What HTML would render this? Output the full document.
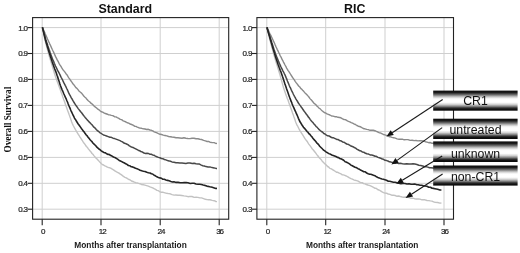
<!DOCTYPE html>
<html lang="en"><head><meta charset="utf-8"><title>Overall Survival</title>
<style>
html,body{margin:0;padding:0;background:#fff;}
body{width:520px;height:253px;overflow:hidden;}
svg{display:block;filter:grayscale(1);}
.sans{font-family:"Liberation Sans",Arial,sans-serif;}
.serif{font-family:"Liberation Serif","Times New Roman",serif;}
.tk{font-size:8px;letter-spacing:-0.65px;fill:#222;stroke:#222;stroke-width:0.2px;}
.tx{font-size:8px;letter-spacing:-1.0px;fill:#222;stroke:#222;stroke-width:0.2px;}
.ttl{font-size:12.4px;font-weight:bold;fill:#111;}
.xt{font-size:8.33px;font-weight:bold;fill:#1a1a1a;}
.lb{font-size:12.3px;fill:#111;}
</style></head><body>
<svg width="520" height="253" viewBox="0 0 520 253">
<defs>
<linearGradient id="cyl" x1="0" y1="0" x2="0" y2="1">
<stop offset="0" stop-color="#0a0a0a"/><stop offset="0.10" stop-color="#1c1c1c"/><stop offset="0.2" stop-color="#686868"/><stop offset="0.3" stop-color="#bdbdbd"/><stop offset="0.38" stop-color="#f0f0f0"/><stop offset="0.45" stop-color="#ffffff"/><stop offset="0.58" stop-color="#ffffff"/><stop offset="0.68" stop-color="#d8d8d8"/><stop offset="0.78" stop-color="#888888"/><stop offset="0.86" stop-color="#353535"/><stop offset="0.92" stop-color="#121212"/><stop offset="1" stop-color="#0a0a0a"/>
</linearGradient>
</defs>
<rect width="520" height="253" fill="#fff"/>

<line x1="32.6" y1="27.6" x2="228.7" y2="27.6" stroke="#cfcfcf" stroke-width="1"/>
<line x1="32.6" y1="53.5" x2="228.7" y2="53.5" stroke="#cfcfcf" stroke-width="1"/>
<line x1="32.6" y1="79.4" x2="228.7" y2="79.4" stroke="#cfcfcf" stroke-width="1"/>
<line x1="32.6" y1="105.4" x2="228.7" y2="105.4" stroke="#cfcfcf" stroke-width="1"/>
<line x1="32.6" y1="131.4" x2="228.7" y2="131.4" stroke="#cfcfcf" stroke-width="1"/>
<line x1="32.6" y1="157.4" x2="228.7" y2="157.4" stroke="#cfcfcf" stroke-width="1"/>
<line x1="32.6" y1="183.3" x2="228.7" y2="183.3" stroke="#cfcfcf" stroke-width="1"/>
<line x1="32.6" y1="209.2" x2="228.7" y2="209.2" stroke="#cfcfcf" stroke-width="1"/>
<line x1="42.2" y1="17.6" x2="42.2" y2="219.2" stroke="#cfcfcf" stroke-width="1"/>
<line x1="101.0" y1="17.6" x2="101.0" y2="219.2" stroke="#cfcfcf" stroke-width="1"/>
<line x1="160.2" y1="17.6" x2="160.2" y2="219.2" stroke="#cfcfcf" stroke-width="1"/>
<line x1="219.2" y1="17.6" x2="219.2" y2="219.2" stroke="#cfcfcf" stroke-width="1"/>
<path d="M42.4 27.3 L42.6 28.3 L42.8 29.7 L43.3 31.8 L43.6 33.4 L44.1 35.9 L44.5 37.9 L44.9 39.7 L45.4 41.5 L45.7 42.8 L46.1 44.6 L46.5 45.9 L46.9 47.6 L47.5 49.5 L48.0 51.5 L48.4 52.8 L48.9 54.8 L49.4 56.5 L49.9 58.2 L50.3 59.5 L50.7 60.9 L51.3 62.9 L51.6 63.9 L52.3 66.1 L52.6 67.4 L53.1 68.9 L53.6 70.4 L54.1 72.1 L54.6 73.9 L54.9 74.8 L55.6 76.9 L56.2 78.6 L56.7 80.0 L57.3 81.7 L57.7 82.8 L58.3 84.2 L58.8 85.8 L59.5 87.6 L60.0 88.9 L60.5 90.4 L61.1 92.2 L61.7 93.6 L62.2 95.1 L62.8 97.0 L63.4 98.5 L63.8 99.7 L64.5 101.5 L65.0 103.0 L65.6 104.9 L66.2 106.4 L66.7 107.7 L67.4 109.9 L67.8 110.9 L68.5 112.7 L69.1 114.5 L69.5 115.5 L70.0 117.0 L70.6 118.6 L71.2 120.6 L71.7 122.0 L72.2 123.3 L73.1 125.3 L73.5 126.0 L74.3 127.5 L74.9 128.7 L75.7 130.0 L76.5 131.3 L77.4 132.9 L78.3 134.4 L79.1 135.5 L80.0 137.1 L80.6 137.8 L81.5 139.4 L82.3 140.5 L83.1 141.9 L83.9 143.0 L84.6 143.8 L85.5 145.1 L86.4 146.5 L87.2 147.2 L88.2 148.7 L89.0 149.6 L89.9 150.7 L90.9 151.8 L92.0 153.5 L92.9 154.3 L93.9 155.6 L95.0 156.9 L96.2 158.4 L97.1 159.0 L98.2 160.3 L99.2 161.4 L100.3 162.6 L101.2 163.5 L102.1 164.3 L103.5 165.0 L104.9 165.9 L106.1 166.3 L107.4 167.1 L108.7 167.6 L109.9 167.8 L111.1 168.4 L112.3 169.2 L113.5 169.9 L114.9 170.9 L116.2 171.7 L117.4 172.3 L118.6 172.9 L120.0 173.9 L121.2 174.7 L122.5 175.6 L123.8 176.7 L125.0 177.3 L126.3 177.9 L127.5 178.7 L128.8 179.5 L129.9 179.7 L131.5 181.0 L132.9 181.5 L134.4 182.2 L135.8 182.7 L137.1 182.9 L138.6 183.4 L139.9 183.7 L141.7 184.6 L143.2 184.7 L144.9 185.2 L146.6 185.7 L148.3 186.2 L150.0 186.9 L151.3 187.3 L152.7 187.9 L154.1 188.7 L155.5 189.4 L157.0 190.3 L158.4 190.7 L160.1 191.9 L161.6 192.2 L163.2 192.3 L165.0 192.8 L166.7 193.3 L168.5 193.6 L170.2 193.8 L172.1 194.6 L174.1 195.1 L175.9 195.0 L177.9 195.3 L179.8 195.2 L181.8 195.5 L184.0 195.9 L185.9 196.1 L188.0 196.7 L189.9 196.4 L191.9 196.5 L194.2 197.4 L196.1 197.3 L197.9 197.4 L199.9 197.9 L201.6 197.9 L203.6 198.6 L205.4 199.3 L207.1 199.6 L208.6 199.8 L209.9 199.8 L212.2 200.4 L214.2 200.7 L215.9 201.5 L217.0 201.6" fill="none" stroke="#c2c2c2" stroke-width="1.4" stroke-linejoin="round"/>
<path d="M42.4 27.3 L42.8 28.2 L43.3 29.5 L43.8 30.5 L44.5 32.0 L45.3 34.0 L46.1 35.8 L46.8 37.3 L47.4 38.8 L48.1 40.2 L48.7 41.6 L49.2 42.6 L49.8 44.1 L50.4 45.3 L50.9 46.4 L51.5 47.7 L52.2 49.3 L52.9 50.8 L53.7 52.4 L54.4 54.0 L54.9 55.1 L55.7 56.9 L56.5 58.4 L57.2 59.9 L57.8 60.9 L58.5 62.2 L59.2 63.6 L59.9 64.8 L60.8 66.2 L61.8 67.9 L62.7 69.3 L63.6 70.5 L64.4 71.4 L65.3 72.7 L66.2 74.0 L66.9 74.7 L67.9 76.4 L68.8 77.8 L69.6 78.9 L70.4 80.2 L71.2 81.2 L72.0 82.3 L73.1 84.0 L74.0 84.9 L75.0 86.3 L75.9 87.6 L76.8 88.3 L77.8 89.4 L78.9 90.9 L79.9 91.8 L80.8 92.5 L81.9 93.6 L82.9 94.8 L84.0 96.3 L85.0 97.2 L85.8 97.8 L86.9 99.3 L88.0 100.5 L88.9 101.3 L89.9 102.0 L90.9 103.2 L91.9 103.8 L92.9 104.7 L94.3 106.3 L95.4 107.1 L96.6 108.0 L97.9 109.2 L99.0 109.8 L100.3 111.0 L101.5 111.8 L102.7 112.1 L103.9 112.8 L105.4 113.5 L106.8 114.0 L108.4 114.7 L109.8 114.9 L111.3 115.4 L112.8 115.6 L114.5 116.7 L116.0 116.9 L117.3 117.6 L118.8 118.3 L120.3 119.3 L121.6 119.7 L123.2 120.8 L124.6 121.3 L126.0 122.0 L127.4 122.8 L128.7 123.1 L130.0 124.0 L131.6 124.5 L133.0 125.1 L134.6 126.2 L135.9 126.4 L137.3 127.1 L138.7 127.7 L140.0 128.0 L141.6 128.3 L143.3 128.8 L145.0 129.0 L146.7 129.5 L148.3 129.3 L150.0 130.0 L151.4 130.3 L152.8 130.9 L154.2 131.8 L155.6 132.3 L157.0 132.9 L158.5 133.6 L160.1 134.3 L161.6 134.5 L163.3 135.1 L165.0 135.5 L166.8 135.9 L168.6 136.5 L170.3 136.7 L172.0 137.0 L174.0 137.3 L176.0 137.8 L177.9 137.8 L179.9 138.0 L182.0 138.2 L183.9 137.8 L185.9 138.2 L188.0 138.5 L190.0 138.6 L192.0 138.2 L194.0 138.3 L196.1 138.7 L197.9 138.7 L199.8 139.2 L201.6 139.5 L203.6 140.3 L205.4 140.9 L207.1 141.5 L208.5 141.4 L210.0 142.2 L212.3 142.6 L214.2 142.6 L215.9 143.5 L217.0 143.4" fill="none" stroke="#8a8a8a" stroke-width="1.4" stroke-linejoin="round"/>
<path d="M42.4 27.3 L42.8 28.6 L43.0 29.3 L43.5 31.3 L43.9 32.6 L44.4 34.5 L45.0 36.7 L45.5 38.4 L45.9 39.8 L46.4 41.4 L46.9 42.9 L47.4 44.3 L47.8 45.8 L48.4 47.4 L49.0 49.3 L49.4 50.3 L50.0 52.2 L50.5 53.6 L50.9 54.7 L51.6 56.6 L52.3 58.4 L52.9 59.9 L53.5 61.1 L54.3 63.3 L54.9 64.6 L55.5 66.0 L55.9 66.7 L56.7 68.4 L57.2 69.5 L58.0 71.2 L58.5 72.0 L59.2 73.2 L60.0 74.9 L60.7 76.4 L61.3 77.6 L61.8 78.5 L62.5 79.8 L63.3 81.7 L63.9 82.9 L64.7 84.4 L65.2 85.4 L65.9 86.7 L66.7 88.5 L67.3 89.6 L67.8 90.7 L68.6 92.6 L69.2 93.8 L69.9 95.2 L70.4 96.0 L71.3 97.9 L71.9 98.7 L72.8 100.4 L73.4 101.4 L74.1 102.5 L74.9 103.8 L75.8 105.2 L76.4 106.0 L77.2 107.1 L78.2 108.6 L79.0 109.6 L79.9 110.7 L80.7 111.8 L81.6 112.8 L82.5 114.0 L83.4 115.2 L84.3 116.4 L85.4 117.8 L86.2 118.6 L87.2 119.9 L88.1 120.7 L89.1 121.9 L90.0 122.7 L90.9 123.8 L92.0 124.8 L93.2 126.4 L94.2 127.4 L95.2 128.2 L96.3 129.5 L97.5 130.8 L98.4 131.2 L99.7 132.6 L100.8 133.2 L102.0 134.0 L103.5 135.0 L104.9 135.4 L106.5 136.0 L108.2 136.6 L109.9 137.3 L111.3 137.3 L113.0 138.2 L114.6 138.6 L116.0 139.1 L117.4 139.6 L118.7 140.1 L120.0 140.6 L121.3 141.3 L122.5 141.9 L124.0 143.1 L125.2 143.4 L126.5 144.0 L127.9 144.7 L129.4 145.9 L130.8 146.7 L132.3 147.3 L133.7 147.8 L135.2 148.6 L136.7 149.4 L138.2 150.2 L139.5 150.7 L140.8 151.5 L142.0 151.8 L144.0 153.0 L145.6 153.4 L147.0 153.3 L148.3 153.4 L150.1 154.3 L151.3 154.3 L152.6 154.9 L153.9 155.2 L155.4 156.1 L156.9 156.8 L158.4 157.4 L159.9 157.8 L161.4 158.5 L162.8 158.7 L164.4 159.5 L165.9 159.9 L167.5 160.6 L169.0 160.9 L170.5 161.3 L172.0 161.9 L174.0 162.2 L176.0 162.7 L177.8 162.8 L179.8 163.0 L182.0 163.1 L183.9 163.2 L185.9 163.4 L187.9 163.1 L190.0 163.1 L192.3 163.6 L194.1 163.2 L196.0 163.8 L197.9 164.0 L199.5 164.1 L201.3 165.1 L202.8 165.7 L204.3 166.0 L206.0 166.6 L208.0 167.0 L209.9 166.9 L212.1 167.6 L214.1 167.9 L215.9 168.4 L217.0 168.4" fill="none" stroke="#484848" stroke-width="1.5" stroke-linejoin="round"/>
<path d="M42.4 27.3 L42.7 28.6 L43.1 30.2 L43.5 31.8 L44.0 34.0 L44.5 36.0 L45.0 38.1 L45.4 39.8 L45.8 41.3 L46.3 43.0 L46.9 44.8 L47.3 46.4 L48.0 48.6 L48.5 50.2 L49.0 51.9 L49.5 53.5 L50.0 55.1 L50.5 56.7 L51.0 58.0 L51.6 60.1 L52.1 61.6 L52.6 62.9 L53.1 64.4 L53.6 65.8 L53.9 66.7 L54.7 69.0 L55.2 70.1 L55.7 71.4 L56.3 73.0 L57.0 75.2 L57.4 76.1 L57.9 77.8 L58.4 79.5 L58.8 80.6 L59.3 82.1 L59.8 83.8 L60.4 85.5 L61.1 87.2 L61.5 88.4 L62.1 89.8 L62.6 90.8 L63.2 92.2 L63.8 93.7 L64.6 95.5 L65.1 96.6 L65.8 98.2 L66.3 99.2 L66.9 100.7 L67.6 102.3 L68.2 104.0 L68.8 105.5 L69.4 106.9 L70.0 108.1 L70.6 109.7 L71.2 111.1 L71.8 112.4 L72.3 113.5 L73.1 115.3 L73.7 116.2 L74.5 118.1 L75.2 119.3 L75.7 119.8 L76.5 121.3 L77.4 122.7 L78.2 124.0 L79.0 125.0 L79.7 126.0 L80.5 127.1 L81.5 128.7 L82.2 129.4 L83.1 130.9 L84.0 131.8 L85.0 133.3 L86.1 134.8 L86.9 135.5 L88.1 137.2 L88.9 138.1 L89.9 139.5 L90.8 140.5 L91.7 141.3 L92.9 143.0 L93.8 143.9 L94.7 144.7 L95.8 145.8 L96.9 147.2 L98.0 148.2 L98.9 149.0 L99.9 149.7 L101.3 150.9 L102.6 151.7 L104.1 152.7 L105.2 152.7 L106.7 153.8 L108.1 154.4 L109.3 154.5 L110.8 155.6 L112.0 156.1 L113.5 157.0 L114.7 157.4 L116.2 158.3 L117.6 159.2 L119.2 160.5 L120.5 161.0 L121.7 161.6 L122.9 162.3 L124.0 162.8 L125.7 163.7 L127.0 164.4 L128.4 165.5 L130.0 165.8 L131.3 166.8 L132.5 166.9 L134.0 167.5 L135.5 168.3 L137.0 168.7 L138.5 169.4 L140.1 170.3 L141.7 170.8 L143.4 171.2 L145.0 171.5 L146.8 172.2 L148.4 172.7 L150.0 173.0 L151.4 173.8 L152.6 174.0 L154.1 175.2 L155.4 175.8 L156.9 176.8 L158.4 177.4 L160.0 177.9 L161.3 178.2 L162.9 179.3 L164.3 179.3 L165.9 180.0 L167.5 180.4 L169.1 180.8 L170.9 181.5 L172.5 182.0 L173.9 181.8 L176.1 182.4 L178.1 182.4 L180.2 182.7 L182.3 182.7 L184.2 182.6 L186.1 182.6 L187.9 182.8 L190.3 183.5 L192.2 183.3 L194.0 183.3 L196.0 184.0 L198.1 184.3 L199.6 184.3 L201.4 184.5 L203.2 185.0 L205.0 185.4 L206.8 186.1 L208.4 186.4 L209.9 186.8 L212.2 187.3 L214.3 187.9 L215.9 188.5 L217.0 188.4" fill="none" stroke="#242424" stroke-width="1.6" stroke-linejoin="round"/>
<rect x="32.6" y="17.6" width="196.1" height="201.6" fill="none" stroke="#222" stroke-width="1.1"/>
<line x1="27.6" y1="27.6" x2="32.6" y2="27.6" stroke="#222" stroke-width="1.1"/>
<text class="sans tk" x="27.4" y="30.5" text-anchor="end">1.0</text>
<line x1="27.6" y1="53.5" x2="32.6" y2="53.5" stroke="#222" stroke-width="1.1"/>
<text class="sans tk" x="27.4" y="56.4" text-anchor="end">0.9</text>
<line x1="27.6" y1="79.4" x2="32.6" y2="79.4" stroke="#222" stroke-width="1.1"/>
<text class="sans tk" x="27.4" y="82.3" text-anchor="end">0.8</text>
<line x1="27.6" y1="105.4" x2="32.6" y2="105.4" stroke="#222" stroke-width="1.1"/>
<text class="sans tk" x="27.4" y="108.3" text-anchor="end">0.7</text>
<line x1="27.6" y1="131.4" x2="32.6" y2="131.4" stroke="#222" stroke-width="1.1"/>
<text class="sans tk" x="27.4" y="134.3" text-anchor="end">0.6</text>
<line x1="27.6" y1="157.4" x2="32.6" y2="157.4" stroke="#222" stroke-width="1.1"/>
<text class="sans tk" x="27.4" y="160.3" text-anchor="end">0.5</text>
<line x1="27.6" y1="183.3" x2="32.6" y2="183.3" stroke="#222" stroke-width="1.1"/>
<text class="sans tk" x="27.4" y="186.2" text-anchor="end">0.4</text>
<line x1="27.6" y1="209.2" x2="32.6" y2="209.2" stroke="#222" stroke-width="1.1"/>
<text class="sans tk" x="27.4" y="212.1" text-anchor="end">0.3</text>
<line x1="42.2" y1="219.2" x2="42.2" y2="225.3" stroke="#222" stroke-width="1.1"/>
<text class="sans tx" x="42.8" y="233.9" text-anchor="middle">0</text>
<line x1="101.0" y1="219.2" x2="101.0" y2="225.3" stroke="#222" stroke-width="1.1"/>
<text class="sans tx" x="102.2" y="233.9" text-anchor="middle">12</text>
<line x1="160.2" y1="219.2" x2="160.2" y2="225.3" stroke="#222" stroke-width="1.1"/>
<text class="sans tx" x="161.0" y="233.9" text-anchor="middle">24</text>
<line x1="219.2" y1="219.2" x2="219.2" y2="225.3" stroke="#222" stroke-width="1.1"/>
<text class="sans tx" x="219.6" y="233.9" text-anchor="middle">36</text>
<line x1="256.9" y1="27.6" x2="453.5" y2="27.6" stroke="#cfcfcf" stroke-width="1"/>
<line x1="256.9" y1="53.5" x2="453.5" y2="53.5" stroke="#cfcfcf" stroke-width="1"/>
<line x1="256.9" y1="79.4" x2="453.5" y2="79.4" stroke="#cfcfcf" stroke-width="1"/>
<line x1="256.9" y1="105.4" x2="453.5" y2="105.4" stroke="#cfcfcf" stroke-width="1"/>
<line x1="256.9" y1="131.4" x2="453.5" y2="131.4" stroke="#cfcfcf" stroke-width="1"/>
<line x1="256.9" y1="157.4" x2="453.5" y2="157.4" stroke="#cfcfcf" stroke-width="1"/>
<line x1="256.9" y1="183.3" x2="453.5" y2="183.3" stroke="#cfcfcf" stroke-width="1"/>
<line x1="256.9" y1="209.2" x2="453.5" y2="209.2" stroke="#cfcfcf" stroke-width="1"/>
<line x1="266.8" y1="17.6" x2="266.8" y2="219.2" stroke="#cfcfcf" stroke-width="1"/>
<line x1="325.7" y1="17.6" x2="325.7" y2="219.2" stroke="#cfcfcf" stroke-width="1"/>
<line x1="385.0" y1="17.6" x2="385.0" y2="219.2" stroke="#cfcfcf" stroke-width="1"/>
<line x1="444.0" y1="17.6" x2="444.0" y2="219.2" stroke="#cfcfcf" stroke-width="1"/>
<path d="M266.9 27.3 L267.2 28.6 L267.5 29.9 L267.9 31.7 L268.5 33.7 L268.9 35.7 L269.4 37.8 L269.9 39.7 L270.3 41.4 L270.9 43.4 L271.1 44.4 L271.6 46.2 L272.1 48.0 L272.6 49.8 L272.9 51.1 L273.4 52.9 L273.9 54.8 L274.4 56.3 L274.8 57.8 L275.4 59.7 L275.8 61.2 L276.3 62.9 L276.6 63.9 L277.2 65.6 L277.8 67.7 L278.3 69.4 L278.7 70.7 L279.2 72.3 L279.5 73.3 L280.0 74.9 L280.6 77.1 L281.1 78.7 L281.5 80.4 L282.0 82.0 L282.2 82.9 L282.6 84.3 L283.0 85.8 L283.5 87.5 L284.0 89.1 L284.6 90.9 L285.1 92.3 L285.6 93.8 L286.2 95.4 L286.7 96.7 L287.3 98.4 L287.8 99.6 L288.5 101.6 L288.9 102.8 L289.7 104.9 L290.2 106.3 L290.7 107.8 L291.3 109.3 L291.9 111.0 L292.5 112.9 L293.1 114.4 L293.5 115.4 L293.9 116.7 L294.7 118.9 L295.2 120.5 L295.6 121.7 L296.1 123.0 L297.0 125.1 L297.5 125.8 L298.2 127.2 L298.9 128.6 L299.8 130.3 L300.5 131.4 L301.4 133.0 L302.2 134.1 L303.0 135.4 L303.9 136.8 L304.8 138.4 L305.5 139.4 L306.2 140.2 L307.0 141.2 L307.9 142.7 L308.8 144.1 L309.6 145.1 L310.4 146.2 L311.4 147.6 L312.3 149.0 L313.1 149.7 L313.9 150.7 L314.9 152.0 L315.8 153.2 L316.8 154.6 L317.6 155.5 L318.7 157.0 L319.7 158.2 L320.6 159.1 L321.5 160.0 L322.5 161.6 L323.3 162.1 L324.3 163.4 L324.9 163.8 L326.2 165.0 L327.6 166.5 L328.6 167.0 L329.8 168.3 L330.8 168.6 L331.8 169.1 L332.9 169.8 L334.2 170.7 L335.5 171.5 L336.7 172.3 L337.8 172.3 L339.3 173.2 L340.9 173.8 L342.3 174.9 L343.4 174.9 L344.8 175.4 L346.3 176.0 L347.9 176.9 L349.5 177.9 L351.0 178.6 L352.4 179.1 L353.8 179.8 L355.1 180.3 L356.6 180.6 L358.1 181.1 L359.7 182.2 L361.0 182.6 L362.2 182.6 L363.6 183.6 L365.0 183.9 L366.4 184.5 L367.8 185.0 L369.2 185.4 L370.6 185.9 L372.1 186.6 L373.5 187.3 L375.1 188.3 L376.3 188.4 L377.9 189.7 L379.1 190.0 L380.5 190.8 L382.1 191.9 L383.5 192.6 L385.0 193.0 L386.5 193.2 L388.2 194.0 L389.9 194.4 L391.7 195.2 L393.3 195.1 L395.1 195.5 L397.1 196.3 L398.6 196.0 L400.3 196.5 L402.2 197.0 L403.9 197.2 L405.6 197.0 L407.4 197.2 L409.1 197.5 L411.1 198.3 L412.7 198.1 L414.6 198.7 L416.5 199.0 L418.2 198.9 L420.0 199.1 L421.9 199.8 L423.5 199.8 L425.0 199.8 L427.0 200.5 L428.7 200.6 L430.4 200.9 L432.0 201.1 L433.6 201.9 L435.1 202.3 L437.7 202.5 L440.0 203.1 L441.4 203.0" fill="none" stroke="#c2c2c2" stroke-width="1.4" stroke-linejoin="round"/>
<path d="M266.9 27.3 L267.2 27.8 L267.8 29.1 L268.5 30.6 L269.3 32.5 L270.1 34.1 L270.8 35.3 L271.5 36.9 L272.3 38.5 L273.0 40.0 L273.8 41.7 L274.2 42.6 L274.9 44.3 L275.5 45.6 L276.1 47.0 L276.7 48.3 L277.3 49.6 L278.0 50.9 L278.6 52.2 L279.3 53.6 L280.0 55.3 L280.6 56.3 L281.4 57.9 L282.2 59.7 L282.9 60.8 L283.5 62.1 L284.2 63.4 L285.0 65.0 L285.8 66.3 L286.6 68.1 L287.4 69.3 L288.1 70.6 L288.7 71.3 L289.4 72.3 L290.1 73.5 L291.0 75.0 L291.9 76.4 L292.6 77.5 L293.4 78.6 L294.3 79.9 L295.2 81.3 L296.1 82.6 L297.1 83.9 L298.1 85.2 L298.9 86.2 L299.8 87.0 L300.9 88.6 L301.8 89.3 L302.9 90.6 L303.9 91.6 L305.0 92.9 L305.9 93.7 L306.9 94.8 L307.9 95.9 L308.9 97.0 L310.0 98.6 L310.9 99.6 L311.8 100.5 L312.8 101.7 L314.0 103.2 L314.9 103.9 L315.9 104.8 L317.1 106.2 L318.1 107.1 L319.2 108.3 L320.0 108.6 L321.2 109.9 L322.4 111.0 L323.5 111.9 L324.7 112.8 L325.7 113.0 L327.0 113.9 L328.3 114.4 L329.9 115.0 L331.6 116.0 L333.1 116.1 L334.8 116.7 L336.3 116.6 L338.0 117.3 L339.5 117.5 L340.9 117.8 L342.6 118.8 L344.1 119.5 L345.4 119.6 L347.0 120.7 L348.4 121.4 L349.8 121.8 L351.2 122.6 L352.6 123.1 L353.9 123.8 L355.4 124.5 L356.9 125.5 L358.3 126.2 L359.6 126.5 L360.9 127.0 L362.3 127.9 L363.7 128.7 L364.9 128.8 L366.7 129.4 L368.3 129.6 L370.1 130.3 L371.7 130.3 L373.3 130.3 L374.9 130.7 L376.4 131.4 L377.8 132.0 L379.1 132.7 L380.3 132.9 L381.8 133.6 L383.4 134.5 L385.0 134.9 L386.3 135.3 L387.6 135.8 L389.2 136.7 L390.5 136.8 L392.0 137.4 L393.6 137.7 L395.3 138.2 L397.1 138.9 L399.1 139.3 L400.6 139.1 L402.3 139.2 L404.2 139.8 L406.0 139.6 L408.0 139.6 L410.2 140.4 L412.1 140.2 L414.2 140.6 L416.0 140.5 L417.9 140.9 L419.5 140.8 L420.9 140.8 L423.2 141.0 L425.3 141.7 L427.0 142.1 L428.7 142.7 L430.0 142.5 L431.6 143.2 L433.0 143.3 L435.1 143.8 L437.2 143.9 L439.1 144.4 L440.8 144.8 L442.0 145.0" fill="none" stroke="#8a8a8a" stroke-width="1.4" stroke-linejoin="round"/>
<path d="M266.9 27.3 L267.3 28.6 L267.5 29.3 L268.1 31.0 L268.7 32.9 L269.3 34.8 L269.8 36.2 L270.3 38.0 L271.1 40.3 L271.6 41.8 L271.9 42.9 L272.3 44.1 L273.0 46.3 L273.4 47.5 L274.0 49.4 L274.5 50.7 L275.1 52.4 L275.4 53.4 L276.1 55.2 L276.6 56.5 L277.3 58.2 L278.0 60.1 L278.6 61.7 L279.1 62.7 L279.8 64.2 L280.4 65.6 L281.0 67.0 L281.7 68.4 L282.3 69.6 L282.9 70.8 L283.7 72.3 L284.4 73.8 L284.9 74.7 L285.6 76.4 L286.2 77.9 L286.7 78.9 L287.4 81.0 L287.9 82.1 L288.7 84.0 L289.3 85.5 L290.0 87.1 L290.6 88.2 L291.2 89.6 L291.9 91.1 L292.5 92.3 L293.2 93.8 L293.8 95.0 L294.5 96.3 L295.1 97.3 L296.0 99.1 L296.7 100.2 L297.4 101.2 L298.2 102.8 L299.0 103.9 L299.7 104.9 L300.5 105.9 L301.4 107.3 L302.2 108.3 L303.0 109.5 L304.0 111.0 L304.7 111.9 L305.7 113.3 L306.6 114.6 L307.4 115.5 L308.4 117.1 L309.2 117.9 L310.3 119.6 L311.2 120.8 L312.1 121.8 L313.0 122.6 L314.0 124.0 L315.0 125.0 L316.2 126.6 L317.0 127.1 L318.2 128.6 L319.2 129.7 L320.2 130.5 L321.4 131.5 L322.4 132.0 L323.8 133.5 L325.0 134.0 L326.4 135.1 L327.7 135.8 L329.0 135.9 L330.7 137.0 L332.3 137.7 L333.6 137.8 L335.2 138.6 L336.8 139.4 L338.2 139.6 L339.8 140.7 L341.0 140.8 L342.6 141.9 L343.9 142.2 L345.3 143.1 L346.7 144.0 L347.8 144.2 L349.1 144.9 L350.4 145.7 L351.7 146.2 L352.9 146.7 L354.3 147.5 L355.6 148.2 L357.2 149.4 L358.5 150.0 L359.9 150.8 L361.1 151.0 L362.5 152.1 L363.7 152.2 L365.0 153.0 L366.8 153.8 L368.5 154.1 L370.2 154.9 L371.8 155.1 L373.4 155.5 L375.1 156.3 L376.3 156.3 L378.0 157.4 L379.3 157.8 L380.7 158.2 L382.2 159.1 L383.5 159.3 L385.1 160.3 L386.6 160.6 L387.9 161.0 L389.4 161.8 L390.9 162.1 L392.7 162.4 L395.1 163.2 L396.5 162.9 L398.5 163.6 L400.3 163.3 L402.5 163.7 L404.7 164.0 L406.8 163.8 L409.0 164.0 L411.1 163.9 L413.0 163.8 L414.9 164.1 L416.9 164.5 L418.9 165.2 L420.8 165.4 L422.7 165.9 L424.5 166.7 L426.1 166.6 L427.8 167.1 L429.5 167.8 L430.9 167.7 L433.1 168.1 L435.4 168.8 L437.4 168.9 L439.3 169.4 L440.8 169.6 L442.0 170.0" fill="none" stroke="#484848" stroke-width="1.5" stroke-linejoin="round"/>
<path d="M266.9 27.3 L267.2 28.3 L267.5 29.6 L267.9 30.8 L268.4 32.8 L268.9 34.5 L269.4 36.1 L270.1 38.5 L270.4 39.8 L270.9 41.3 L271.4 43.0 L272.0 45.0 L272.5 46.9 L273.0 48.6 L273.5 50.1 L274.0 51.7 L274.4 53.1 L275.0 55.1 L275.5 56.7 L276.0 58.2 L276.6 60.0 L277.1 61.4 L277.7 63.2 L278.1 64.5 L278.5 65.5 L279.1 67.3 L279.6 68.5 L280.2 70.3 L280.8 71.6 L281.3 73.0 L281.9 74.7 L282.5 76.5 L282.8 77.3 L283.4 79.2 L284.0 80.9 L284.3 81.9 L284.8 83.6 L285.5 85.5 L286.0 87.0 L286.5 88.6 L287.1 90.2 L287.5 91.3 L288.1 93.0 L288.6 94.5 L289.1 95.9 L289.9 98.1 L290.5 99.6 L291.0 101.2 L291.5 102.1 L292.2 104.1 L292.8 105.5 L293.4 106.8 L294.1 108.4 L294.6 109.7 L295.2 110.9 L295.8 112.2 L296.4 113.6 L296.9 114.7 L297.7 116.5 L298.4 118.3 L299.0 119.6 L299.6 121.0 L300.3 122.3 L301.0 123.3 L302.0 125.0 L302.7 126.0 L303.5 127.2 L304.3 128.1 L305.1 129.0 L306.1 130.3 L307.1 131.6 L307.9 132.2 L309.0 133.8 L309.8 134.3 L310.9 135.7 L311.9 136.8 L312.9 138.2 L313.9 139.4 L314.8 140.4 L315.6 141.2 L316.7 142.8 L317.6 143.6 L318.6 144.6 L319.7 146.2 L320.7 147.2 L321.8 148.3 L322.8 149.3 L324.0 150.4 L325.0 151.0 L326.3 152.1 L327.6 152.8 L329.0 153.7 L330.3 154.1 L331.8 155.0 L333.2 155.5 L334.6 156.0 L335.9 156.5 L337.4 157.4 L338.6 157.6 L340.0 158.7 L340.9 158.8 L342.4 159.5 L343.7 160.3 L345.1 161.7 L346.1 162.0 L347.1 162.5 L348.3 163.1 L349.5 163.9 L351.0 165.1 L352.3 165.8 L353.6 166.5 L355.1 167.3 L356.4 167.6 L358.0 168.7 L359.5 169.3 L361.0 170.3 L362.5 171.0 L363.8 171.7 L364.9 171.7 L366.7 173.0 L368.2 173.7 L369.7 174.2 L370.8 174.2 L372.2 174.7 L373.5 175.2 L374.9 175.7 L376.5 176.8 L377.9 177.4 L379.2 177.9 L380.6 178.6 L382.0 179.0 L383.4 179.3 L384.9 179.7 L386.5 180.2 L388.3 181.2 L389.8 181.3 L391.6 181.8 L393.4 182.3 L395.1 182.3 L396.9 182.8 L398.8 183.1 L400.9 183.6 L402.8 183.4 L404.9 183.5 L407.0 184.0 L409.0 183.8 L411.1 184.2 L412.8 184.3 L414.5 184.1 L416.4 184.6 L418.2 184.8 L420.1 185.3 L421.7 185.3 L423.5 185.8 L425.0 186.0 L426.9 186.3 L428.8 187.3 L430.4 187.3 L432.1 188.3 L433.5 188.4 L434.9 188.7 L437.6 189.3 L439.9 190.0 L441.4 190.0" fill="none" stroke="#242424" stroke-width="1.6" stroke-linejoin="round"/>
<rect x="256.9" y="17.6" width="196.6" height="201.6" fill="none" stroke="#222" stroke-width="1.1"/>
<line x1="251.9" y1="27.6" x2="256.9" y2="27.6" stroke="#222" stroke-width="1.1"/>
<text class="sans tk" x="251.7" y="30.5" text-anchor="end">1.0</text>
<line x1="251.9" y1="53.5" x2="256.9" y2="53.5" stroke="#222" stroke-width="1.1"/>
<text class="sans tk" x="251.7" y="56.4" text-anchor="end">0.9</text>
<line x1="251.9" y1="79.4" x2="256.9" y2="79.4" stroke="#222" stroke-width="1.1"/>
<text class="sans tk" x="251.7" y="82.3" text-anchor="end">0.8</text>
<line x1="251.9" y1="105.4" x2="256.9" y2="105.4" stroke="#222" stroke-width="1.1"/>
<text class="sans tk" x="251.7" y="108.3" text-anchor="end">0.7</text>
<line x1="251.9" y1="131.4" x2="256.9" y2="131.4" stroke="#222" stroke-width="1.1"/>
<text class="sans tk" x="251.7" y="134.3" text-anchor="end">0.6</text>
<line x1="251.9" y1="157.4" x2="256.9" y2="157.4" stroke="#222" stroke-width="1.1"/>
<text class="sans tk" x="251.7" y="160.3" text-anchor="end">0.5</text>
<line x1="251.9" y1="183.3" x2="256.9" y2="183.3" stroke="#222" stroke-width="1.1"/>
<text class="sans tk" x="251.7" y="186.2" text-anchor="end">0.4</text>
<line x1="251.9" y1="209.2" x2="256.9" y2="209.2" stroke="#222" stroke-width="1.1"/>
<text class="sans tk" x="251.7" y="212.1" text-anchor="end">0.3</text>
<line x1="266.8" y1="219.2" x2="266.8" y2="225.3" stroke="#222" stroke-width="1.1"/>
<text class="sans tx" x="267.4" y="233.9" text-anchor="middle">0</text>
<line x1="325.7" y1="219.2" x2="325.7" y2="225.3" stroke="#222" stroke-width="1.1"/>
<text class="sans tx" x="326.9" y="233.9" text-anchor="middle">12</text>
<line x1="385.0" y1="219.2" x2="385.0" y2="225.3" stroke="#222" stroke-width="1.1"/>
<text class="sans tx" x="385.8" y="233.9" text-anchor="middle">24</text>
<line x1="444.0" y1="219.2" x2="444.0" y2="225.3" stroke="#222" stroke-width="1.1"/>
<text class="sans tx" x="444.4" y="233.9" text-anchor="middle">36</text>
<text class="sans ttl" x="125.3" y="13.0" text-anchor="middle">Standard</text>
<text class="sans ttl" x="354.7" y="13.0" text-anchor="middle">RIC</text>
<text class="sans xt" x="130.5" y="248" text-anchor="middle">Months after transplantation</text>
<text class="sans xt" x="362.2" y="248" text-anchor="middle">Months after transplantation</text>
<text class="serif" transform="translate(10.9 152.6) rotate(-90)" font-size="9.3" font-weight="bold" fill="#111">Overall Survival</text>
<rect x="433.2" y="90.6" width="84.4" height="20.1" fill="url(#cyl)"/>
<text class="sans lb" x="475.5" y="104.9" text-anchor="middle">CR1</text>
<rect x="433.2" y="118.7" width="84.4" height="20.3" fill="url(#cyl)"/>
<text class="sans lb" x="475.5" y="133.7" text-anchor="middle">untreated</text>
<rect x="433.2" y="141.4" width="84.4" height="20.6" fill="url(#cyl)"/>
<text class="sans lb" x="475.5" y="157.8" text-anchor="middle">unknown</text>
<rect x="433.2" y="165.5" width="84.4" height="20.1" fill="url(#cyl)"/>
<text class="sans lb" x="475.5" y="180.9" text-anchor="middle">non-CR1</text>
<line x1="442.7" y1="99.5" x2="392.2" y2="132.7" stroke="#1a1a1a" stroke-width="1.1"/>
<polygon points="386.4,136.5 393.8,135.1 390.7,130.2" fill="#111"/>
<line x1="442.2" y1="127.6" x2="397.1" y2="160.4" stroke="#1a1a1a" stroke-width="1.1"/>
<polygon points="391.4,164.5 398.8,162.7 395.4,158.0" fill="#111"/>
<line x1="442.2" y1="156.0" x2="402.3" y2="180.2" stroke="#1a1a1a" stroke-width="1.1"/>
<polygon points="396.3,183.8 403.8,182.7 400.8,177.7" fill="#111"/>
<line x1="442.6" y1="174.0" x2="411.5" y2="194.2" stroke="#1a1a1a" stroke-width="1.1"/>
<polygon points="405.6,198.0 413.1,196.6 409.9,191.8" fill="#111"/>
</svg></body></html>
